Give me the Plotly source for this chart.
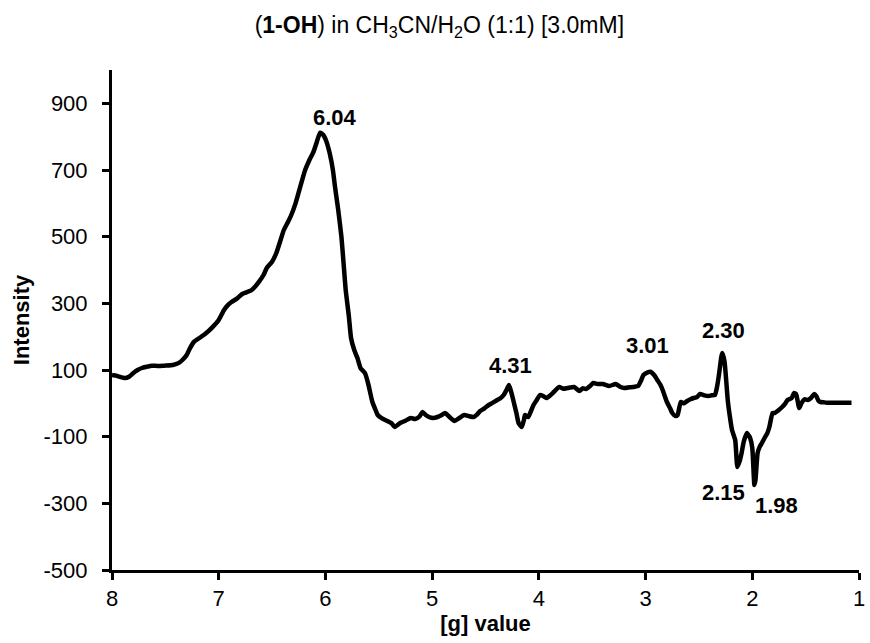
import plotly.graph_objects as go

g_values = [8.00, 7.96, 7.93, 7.88, 7.84, 7.80, 7.76, 7.72, 7.67, 7.63, 7.57, 7.51, 7.45, 7.41, 7.37, 7.34,
            7.30, 7.27, 7.23, 7.18, 7.12, 7.06, 7.00, 6.95, 6.91, 6.88, 6.83, 6.78, 6.74, 6.70, 6.66, 6.62,
            6.58, 6.55, 6.50, 6.46, 6.42, 6.39, 6.35, 6.32, 6.28, 6.24, 6.19, 6.15, 6.11, 6.08, 6.05, 6.02,
            5.99, 5.96, 5.93, 5.91, 5.88, 5.85, 5.83, 5.81, 5.78, 5.76, 5.73, 5.70, 5.67, 5.63, 5.60, 5.56,
            5.53, 5.51, 5.47, 5.42, 5.38, 5.35, 5.32, 5.30, 5.25, 5.20, 5.16, 5.12, 5.09, 5.06, 5.03, 4.99,
            4.95, 4.91, 4.88, 4.84, 4.79, 4.75, 4.70, 4.66, 4.61, 4.58, 4.55, 4.51, 4.47, 4.43, 4.39, 4.36,
            4.33, 4.30, 4.28, 4.26, 4.24, 4.21, 4.19, 4.16, 4.14, 4.13, 4.10, 4.07, 4.05, 4.02, 3.99, 3.96,
            3.93, 3.89, 3.86, 3.81, 3.77, 3.73, 3.67, 3.62, 3.59, 3.56, 3.52, 3.49, 3.45, 3.40, 3.34, 3.28,
            3.24, 3.20, 3.15, 3.10, 3.07, 3.04, 3.02, 2.98, 2.95, 2.92, 2.89, 2.86, 2.84, 2.80, 2.77, 2.75,
            2.72, 2.70, 2.67, 2.64, 2.61, 2.58, 2.55, 2.52, 2.49, 2.45, 2.41, 2.38, 2.35, 2.33, 2.31, 2.29,
            2.28, 2.26, 2.25, 2.23, 2.21, 2.19, 2.16, 2.14, 2.12, 2.10, 2.08, 2.05, 2.03, 2.02, 2.00, 1.98,
            1.97, 1.95, 1.93, 1.91, 1.88, 1.86, 1.84, 1.81, 1.79, 1.76, 1.72, 1.69, 1.67, 1.63, 1.61, 1.59,
            1.56, 1.54, 1.51, 1.48, 1.45, 1.42, 1.40, 1.38, 1.36, 1.33, 1.30, 1.20, 1.07]

intensity = [85, 83, 80, 76, 80, 91, 100, 106, 110, 113, 112, 113, 114, 117, 122, 130,
             145, 165, 185, 196, 210, 228, 250, 280, 296, 304, 314, 328, 333, 338, 350, 366,
             385, 406, 425, 451, 490, 520, 545, 565, 600, 645, 700, 730, 756, 785, 812, 805,
             785, 750, 700, 649, 580, 499, 420, 340, 260, 196, 160, 136, 105, 91, 60, 4,
             -20, -35, -45, -53, -60, -71, -64, -59, -52, -44, -47, -40, -26, -35, -41, -44,
             -41, -35, -29, -40, -53, -45, -35, -38, -41, -34, -23, -15, -5, 2, 10, 15,
             25, 42, 55, 35, 10, -30, -59, -71, -50, -35, -41, -20, -5, 10, 25, 22,
             16, 25, 34, 49, 44, 46, 49, 37, 45, 43, 52, 61, 58, 58, 52, 58,
             50, 46, 48, 50, 52, 70, 85, 93, 94, 85, 70, 55, 40, 4, -15, -29,
             -38, -35, 4, 0, 7, 12, 16, 18, 28, 24, 22, 24, 25, 50, 91, 140,
             151, 125, 91, 10, -40, -80, -110, -191, -175, -149, -115, -89, -98, -104, -134, -245,
             -230, -149, -130, -119, -101, -90, -71, -29, -29, -22, -11, 0, 10, 16, 31, 28,
             -14, 0, 12, 10, 16, 28, 22, 8, 4, 3, 2, 2, 2]

peak_labels = ["6.04", "4.31", "3.01", "2.30", "2.15", "1.98"]
label_x = [5.91, 4.27, 2.98, 2.27, 2.27, 1.77]
label_y = [859, 115, 175, 220, -266, -305]

x_ticks = [8, 7, 6, 5, 4, 3, 2, 1]
y_ticks = [-500, -300, -100, 100, 300, 500, 700, 900]

FONT = "Liberation Sans, Arial, sans-serif"
FS = 22

fig = go.Figure()
fig.add_trace(go.Scatter(
    x=g_values, y=intensity, mode="lines",
    line=dict(color="black", width=4.5, shape="spline", smoothing=0.5),
    showlegend=False, hoverinfo="skip",
))

for t, x, y in zip(peak_labels, label_x, label_y):
    fig.add_annotation(x=x, y=y, text="<b>%s</b>" % t, showarrow=False,
                       font=dict(family=FONT, size=FS, color="black"),
                       xanchor="center", yanchor="middle")

fig.update_layout(
    width=870, height=643,
    margin=dict(l=112, r=5, t=70, b=73),
    paper_bgcolor="white", plot_bgcolor="white",
    font=dict(family=FONT, color="black"),
    title=dict(
        text="(<b>1-OH</b>) in CH<sub>3</sub>CN/H<sub>2</sub>O (1:1) [3.0mM]",
        x=0.505, xanchor="center", y=1 - 25 / 643, yanchor="middle",
        font=dict(family=FONT, size=23, color="black"),
    ),
    xaxis=dict(
        range=[8, 1], tickvals=x_ticks, ticktext=[str(v) for v in x_ticks],
        showline=True, linecolor="black", linewidth=3,
        ticks="outside", ticklen=7, tickwidth=3, tickcolor="black",
        ticklabeloverflow="allow",
        showgrid=False, zeroline=False,
        tickfont=dict(family=FONT, size=FS, color="black"),
        title=dict(text="<b>[g] value</b>", font=dict(family=FONT, size=FS, color="black"), standoff=6),
    ),
    yaxis=dict(
        range=[-500, 1000], tickvals=y_ticks, ticktext=[str(v) for v in y_ticks],
        showline=True, linecolor="black", linewidth=3,
        ticks="outside", ticklen=7, tickwidth=3, tickcolor="black",
        ticklabelstandoff=10, ticklabeloverflow="allow",
        showgrid=False, zeroline=False,
        tickfont=dict(family=FONT, size=FS, color="black"),
        title=dict(text="<b>Intensity</b>", font=dict(family=FONT, size=FS, color="black"), standoff=8),
    ),
)

fig.write_html("out.html")
